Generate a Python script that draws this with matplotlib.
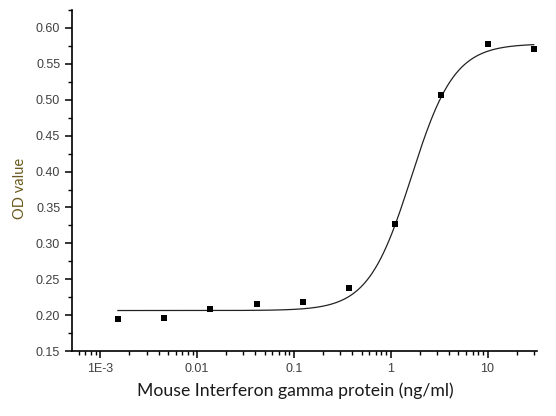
import numpy as np
from matplotlib import pyplot as plt
from matplotlib.ticker import FixedLocator, LogLocator, MultipleLocator, NullFormatter

# Measured points (3-fold dilution series)
conc = [0.00152, 0.00457, 0.0137, 0.0412, 0.123, 0.370, 1.11, 3.33, 10.0, 30.0]
od = [0.1946, 0.1955, 0.2080, 0.2155, 0.2190, 0.2375, 0.3265, 0.5060, 0.5770, 0.5705]

# 4-parameter logistic fit drawn in the original
fit_bottom = 0.2065
fit_top = 0.5780
fit_ec50 = 1.63
fit_hill = 1.95

xtick_vals = [0.001, 0.01, 0.1, 1, 10]
xtick_labels = ["1E-3", "0.01", "0.1", "1", "10"]

fig = plt.figure(figsize=(5.56, 4.16), dpi=100)
ax = fig.add_axes([0.1295, 0.156, 0.8365, 0.82])

xs = np.logspace(np.log10(conc[0]), np.log10(conc[-1]), 300)
ys = fit_bottom + (fit_top - fit_bottom) / (1 + (fit_ec50 / xs) ** fit_hill)
ax.plot(xs, ys, color="#222222", lw=0.9)
ax.plot(conc, od, "s", color="black", ms=5, mew=0)

ax.set_xscale("log")
ax.set_xlim(0.00051, 32.5)
ax.set_ylim(0.15, 0.625)

ax.xaxis.set_major_locator(FixedLocator(xtick_vals))
ax.set_xticklabels(xtick_labels)
ax.xaxis.set_minor_locator(LogLocator(base=10, subs=np.arange(2, 10)))
ax.xaxis.set_minor_formatter(NullFormatter())
ax.yaxis.set_major_locator(MultipleLocator(0.05))
ax.yaxis.set_minor_locator(MultipleLocator(0.025))
ax.yaxis.set_major_formatter(plt.FuncFormatter(lambda v, p: "%.2f" % v))

for s in ["top", "right"]:
    ax.spines[s].set_visible(False)
for s in ["left", "bottom"]:
    ax.spines[s].set_linewidth(1.2)

ax.tick_params(which="major", direction="out", length=5, width=1.1,
               labelsize=9, labelcolor="#404040")
ax.tick_params(which="minor", direction="out", length=3, width=1.0)
for lab in ax.get_xticklabels() + ax.get_yticklabels():
    lab.set_fontfamily("Liberation Sans")

ax.set_xlabel("Mouse Interferon gamma protein (ng/ml)", fontsize=12.7,
              family="Lato", color="#1a1a1a")
ax.xaxis.set_label_coords(0.481, -0.092)
ax.set_ylabel("OD value", fontsize=10.5, family="Lato", color="#6b5a1e")
ax.yaxis.set_label_coords(-0.097, 0.478)

plt.savefig("out.png")
